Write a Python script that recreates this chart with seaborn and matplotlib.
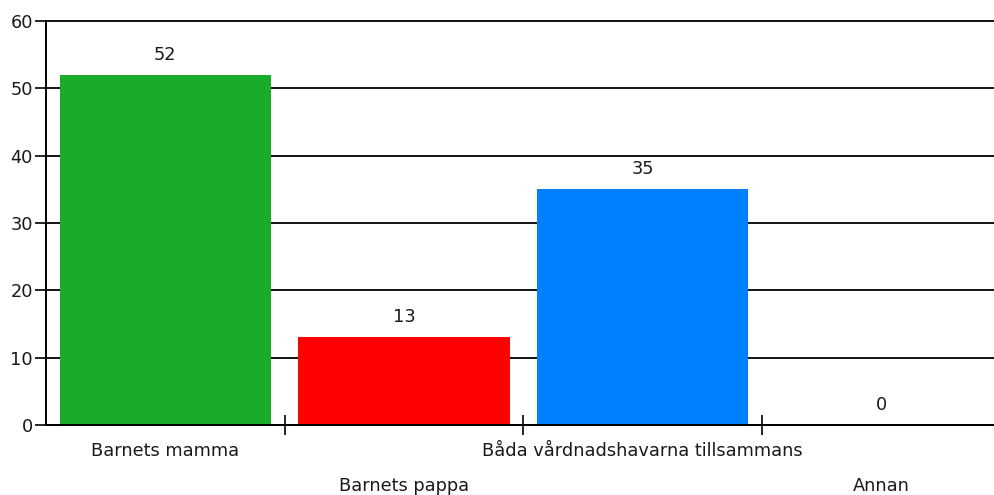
import matplotlib
matplotlib.use("Agg")
import matplotlib.pyplot as plt
import matplotlib.transforms as mtransforms
import seaborn as sns
import pandas as pd

# Data
categories = ["Barnets mamma", "Barnets pappa",
              "Båda vårdnadshavarna tillsammans", "Annan"]
values = [52, 13, 35, 0]
bar_colors = ["#1aac28", "#ff0000", "#0080ff", "#999999"]
y_ticks = [0, 10, 20, 30, 40, 50, 60]

df = pd.DataFrame({"category": categories, "value": values})

sns.set_style("white")
plt.rcParams["font.family"] = ["DejaVu Sans"]
txt = "#1a1a1a"
fs = 12.8

fig = plt.figure(figsize=(9.95, 4.95), dpi=100)
ax = fig.add_axes([46 / 995, 70 / 495, 949 / 995, 404 / 495])

sns.barplot(data=df, x="category", y="value", hue="category",
            palette=bar_colors, legend=False, width=0.885,
            saturation=1, linewidth=0, ax=ax, zorder=3)

# value labels above bars
for cont in ax.containers:
    ax.bar_label(cont, padding=8, fontsize=fs, color=txt)

ax.set_xlim(-0.5, 3.476)
ax.set_ylim(0, 60)
ax.set_yticks(y_ticks)
ax.set_xlabel("")
ax.set_ylabel("")

# grid lines
ax.yaxis.grid(True, color="black", linewidth=1.3, zorder=0)
ax.set_axisbelow(True)
for gl in ax.get_ygridlines():
    gl.set_clip_on(False)

for s in ["top", "right"]:
    ax.spines[s].set_visible(False)
for s in ["left", "bottom"]:
    ax.spines[s].set_color("black")
    ax.spines[s].set_linewidth(1.4)
    ax.spines[s].set_zorder(4)

ax.tick_params(axis="y", length=8, width=1.2, color="black", pad=1.5,
               labelsize=fs, labelcolor=txt, left=True)

# labels at centers, separator ticks between categories
ax.set_xticks(range(len(categories)))
ax.set_xticklabels(categories)
ax.set_xticks([0.5, 1.5, 2.5], minor=True)
ax.tick_params(axis="x", which="major", length=0, pad=12.5,
               labelsize=fs, labelcolor=txt)
ax.tick_params(axis="x", which="minor", direction="inout", length=15,
               width=1.2, color="black", bottom=True)

# stagger every other label onto a second row
shift = mtransforms.ScaledTranslation(0, -35 / 100, fig.dpi_scale_trans)
for i, lab in enumerate(ax.get_xticklabels()):
    if i % 2 == 1:
        lab.set_transform(lab.get_transform() + shift)

fig.savefig("out.png", dpi=100)
